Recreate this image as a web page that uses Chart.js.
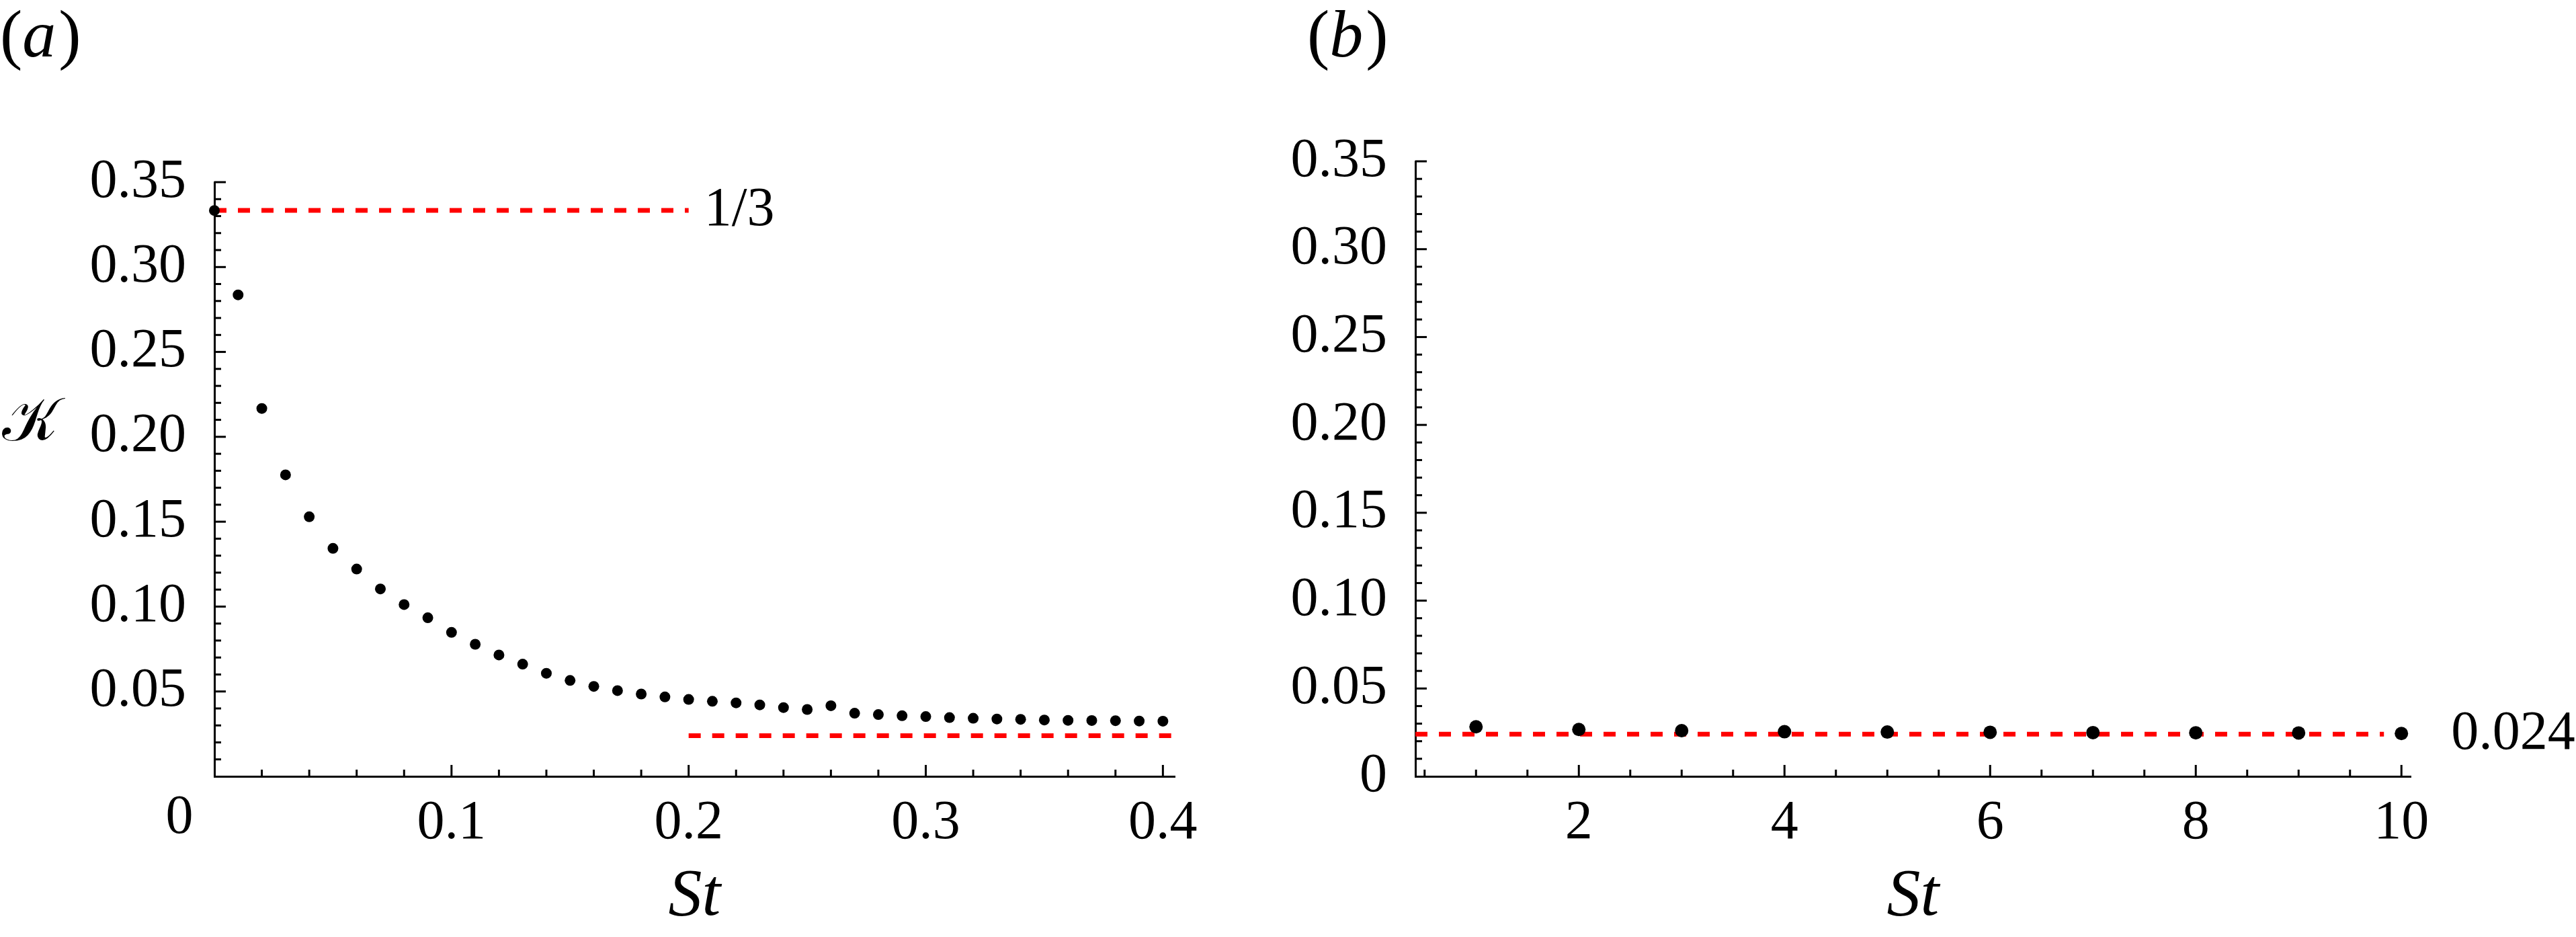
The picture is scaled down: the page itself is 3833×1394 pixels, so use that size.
<!DOCTYPE html>
<html><head><meta charset="utf-8">
<script src="https://cdn.jsdelivr.net/npm/chart.js@4.4.0/dist/chart.umd.min.js"></script>
<style>
html,body{margin:0;padding:0;background:#fff;width:3833px;height:1394px;overflow:hidden}
canvas{position:absolute;top:0}
#ca{left:0}
#cb{left:1900px}
</style></head><body>
<canvas id="ca" width="1900" height="1394"></canvas>
<canvas id="cb" width="1933" height="1394"></canvas>
<script>
// ---- data, panel (a) ----
const stA = [0.00,0.01,0.02,0.03,0.04,0.05,0.06,0.07,0.08,0.09,0.10,0.11,0.12,0.13,0.14,0.15,0.16,0.17,0.18,0.19,0.20,
             0.21,0.22,0.23,0.24,0.25,0.26,0.27,0.28,0.29,0.30,0.31,0.32,0.33,0.34,0.35,0.36,0.37,0.38,0.39,0.40];
const kA  = [0.3333,0.2836,0.2167,0.1776,0.1529,0.1343,0.1221,0.1104,0.1012,0.0934,0.0848,0.0778,0.0715,0.0661,0.0607,0.0565,0.0530,0.0505,0.0485,0.0468,0.0453,
             0.0442,0.0433,0.0421,0.0405,0.0394,0.0416,0.0372,0.0364,0.0357,0.0352,0.0346,0.0342,0.0338,0.0336,0.0332,0.0330,0.0329,0.0328,0.0326,0.0325];
const refTopX = [0, 0.2];
const refTopK = [1/3, 1/3];
const refLowX = [0.2, 0.405];
const refLowK = [0.024, 0.024];
// ---- data, panel (b) ----
const stB = [1,2,3,4,5,6,7,8,9,10];
const kB  = [0.0282,0.0267,0.0260,0.0254,0.0252,0.0251,0.0249,0.0248,0.0247,0.0244];
const refBX = [0.41, 9.83];
const refBK = [0.024, 0.024];
// ---- ticks ----
const yTicksA = [0.05,0.10,0.15,0.20,0.25,0.30,0.35];
const yTicksB = [0,0.05,0.10,0.15,0.20,0.25,0.30,0.35];
const xTicksA = [0,0.1,0.2,0.3,0.4];
const xTicksB = [2,4,6,8,10];
const refLabelTop = '1/3';
const refLabelLow = '0.024';

const SERIF = '"Liberation Serif", "Times New Roman", Times, serif';
const tickFont = {family: SERIF, size: 82};

function pts(xs, ys){ return xs.map((x,i)=>({x:x, y:ys[i]})); }

function inTicks(opts){
  return {
    id:'inTicks',
    beforeDatasetsDraw(chart){
      const {ctx, chartArea:ca, scales:{x,y}} = chart;
      ctx.save();
      ctx.strokeStyle='#000'; ctx.lineWidth=3; ctx.lineCap='butt';
      for(let i=opts.xStart;i<=opts.xEnd;i++){
        const v=i*opts.xStep; const px=x.getPixelForValue(v);
        const len = (i%opts.xMajorEvery===0)?17:10;
        ctx.beginPath(); ctx.moveTo(px, ca.bottom); ctx.lineTo(px, ca.bottom-len); ctx.stroke();
      }
      for(let i=1;i<=35;i++){
        const py=y.getPixelForValue(i*0.01);
        const len=(i%5===0)?17:10;
        ctx.beginPath(); ctx.moveTo(ca.left, py); ctx.lineTo(ca.left+len, py); ctx.stroke();
      }
      ctx.restore();
    }
  };
}

function textPlugin(draw){
  return { id:'texts', afterDraw(chart){ const c=chart.ctx; c.save(); c.fillStyle='#000'; draw(chart,c); c.restore(); } };
}

function panelLabel(ctx, left, cy, letter){
  ctx.textBaseline='middle'; ctx.textAlign='left';
  let x=left;
  ctx.font='100px '+SERIF; ctx.fillText('(',x,cy); x+=ctx.measureText('(').width;
  ctx.font='italic 100px '+SERIF; ctx.fillText(letter,x,cy); x+=ctx.measureText(letter).width+4;
  ctx.font='100px '+SERIF; ctx.fillText(')',x,cy);
}

function baseOptions(pad, yWidth, xMin, xMax, xTicks, xFmt, yTicks){
  return {
    responsive:false, animation:false, devicePixelRatio:1,
    layout:{padding:pad},
    plugins:{legend:{display:false}, tooltip:{enabled:false}},
    scales:{
      x:{type:'linear', min:xMin, max:xMax,
         grid:{display:false}, border:{display:true,color:'#000',width:3},
         afterFit(s){ s.height=239; },
         afterBuildTicks(s){ s.ticks = xTicks.map(v=>({value:v})); },
         ticks:{padding:13, font:tickFont, color:'#000', autoSkip:false, maxRotation:0, callback:xFmt}},
      y:{type:'linear', min:0, max:0.35,
         grid:{display:false}, border:{display:true,color:'#000',width:3},
         afterFit(s){ s.width=yWidth; },
         afterBuildTicks(s){ s.ticks = yTicks.map(v=>({value:v})); },
         ticks:{padding:34, font:tickFont, color:'#000', autoSkip:false, callback:v=> v===0?'0':v.toFixed(2)}}
    }
  };
}

function build(){
  new Chart(document.getElementById('ca'), {
    type:'scatter',
    data:{datasets:[
      {data:pts(stA,kA), pointRadius:8, pointBackgroundColor:'#000', pointBorderWidth:0, showLine:false, clip:false},
      {data:pts(refTopX,refTopK), showLine:true, borderColor:'#ff0000', borderWidth:7, borderDash:[18,17], pointRadius:0, fill:false},
      {data:pts(refLowX,refLowK), showLine:true, borderColor:'#ff0000', borderWidth:7, borderDash:[18,17], pointRadius:0, fill:false}
    ]},
    options: baseOptions({left:0, top:271, right:152, bottom:0}, 319, 0, 0.405, xTicksA, v=> v===0?'':v.toFixed(1), yTicksA),
    plugins:[inTicks({xStart:1, xEnd:20, xStep:0.02, xMajorEvery:5}), textPlugin((chart,ctx)=>{
      const {chartArea:ca, scales:{x,y}} = chart;
      panelLabel(ctx, 0, 58, 'a');
      ctx.font='90px "DejaVu Serif", serif'; ctx.textAlign='left'; ctx.textBaseline='middle';
      ctx.fillText('\u{1D4A6}', 3, 632);
      ctx.font='82px '+SERIF; ctx.textAlign='left'; ctx.textBaseline='middle';
      ctx.fillText(refLabelTop, x.getPixelForValue(refTopX[1])+23, y.getPixelForValue(refTopK[1]));
      ctx.textAlign='center';
      ctx.fillText('0', x.getPixelForValue(0)-52, ca.bottom+13+49);
      ctx.font='italic 100px '+SERIF;
      ctx.fillText('St', (ca.left+ca.right)/2, ca.bottom+180);
    })]
  });
  new Chart(document.getElementById('cb'), {
    type:'scatter',
    data:{datasets:[
      {data:pts(stB,kB), pointRadius:10, pointBackgroundColor:'#000', pointBorderWidth:0, showLine:false, clip:false},
      {data:pts(refBX,refBK), showLine:true, borderColor:'#ff0000', borderWidth:7, borderDash:[18,17], pointRadius:0, fill:false}
    ]},
    options: baseOptions({left:0, top:240, right:246, bottom:0}, 206, 0.41, 10.09, xTicksB, v=>String(v), yTicksB),
    plugins:[inTicks({xStart:1, xEnd:20, xStep:0.5, xMajorEvery:4}), textPlugin((chart,ctx)=>{
      const {chartArea:ca, scales:{x,y}} = chart;
      panelLabel(ctx, 45, 58, 'b');
      ctx.font='82px '+SERIF; ctx.textAlign='left'; ctx.textBaseline='middle';
      ctx.fillText(refLabelLow, x.getPixelForValue(10)+74, y.getPixelForValue(refBK[0]));
      ctx.textAlign='center';
      ctx.font='italic 100px '+SERIF;
      ctx.fillText('St', (ca.left+ca.right)/2, ca.bottom+180);
    })]
  });
}
Promise.all([
  document.fonts.load('82px "Liberation Serif"'),
  document.fonts.load('italic 100px "Liberation Serif"'),
  document.fonts.load('90px "DejaVu Serif"')
]).then(build, build);
</script>
</body></html>
